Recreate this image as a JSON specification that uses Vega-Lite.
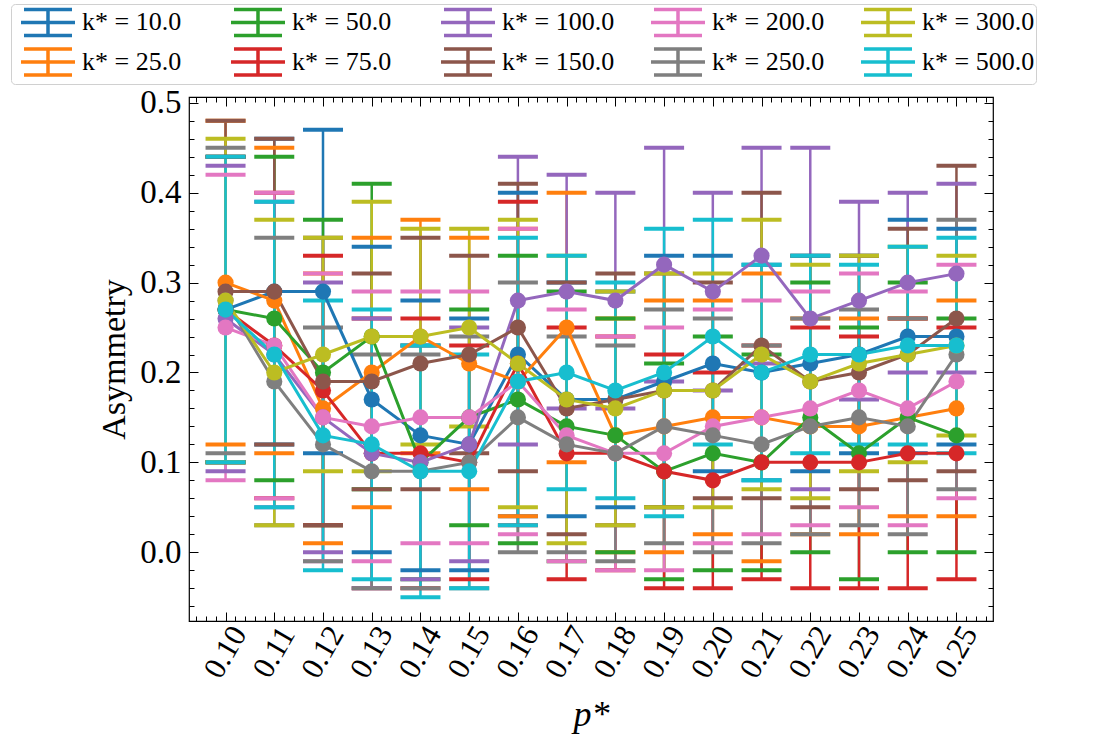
{
  "$schema": "https://vega.github.io/schema/vega-lite/v6.json",
  "width": 804,
  "height": 524,
  "padding": {"left": 10, "top": 3, "right": 5, "bottom": 5},
  "background": "white",
  "config": {
    "view": {"stroke": "black", "strokeWidth": 1.2},
    "font": "Liberation Serif"
  },
  "data": {"values": [
    {"k":"k* = 10.0","p":0.10,"y":0.27,"lo":0.10,"hi":0.44},
    {"k":"k* = 10.0","p":0.11,"y":0.29,"lo":0.12,"hi":0.46},
    {"k":"k* = 10.0","p":0.12,"y":0.29,"lo":0.11,"hi":0.47},
    {"k":"k* = 10.0","p":0.13,"y":0.17,"lo":0.00,"hi":0.34},
    {"k":"k* = 10.0","p":0.14,"y":0.13,"lo":-0.02,"hi":0.28},
    {"k":"k* = 10.0","p":0.15,"y":0.12,"lo":-0.02,"hi":0.26},
    {"k":"k* = 10.0","p":0.16,"y":0.22,"lo":0.04,"hi":0.40},
    {"k":"k* = 10.0","p":0.17,"y":0.17,"lo":0.04,"hi":0.30},
    {"k":"k* = 10.0","p":0.18,"y":0.17,"lo":0.05,"hi":0.29},
    {"k":"k* = 10.0","p":0.19,"y":0.19,"lo":0.05,"hi":0.33},
    {"k":"k* = 10.0","p":0.20,"y":0.21,"lo":0.09,"hi":0.33},
    {"k":"k* = 10.0","p":0.21,"y":0.20,"lo":0.08,"hi":0.32},
    {"k":"k* = 10.0","p":0.22,"y":0.21,"lo":0.09,"hi":0.33},
    {"k":"k* = 10.0","p":0.23,"y":0.22,"lo":0.11,"hi":0.33},
    {"k":"k* = 10.0","p":0.24,"y":0.24,"lo":0.11,"hi":0.37},
    {"k":"k* = 10.0","p":0.25,"y":0.24,"lo":0.12,"hi":0.36},

    {"k":"k* = 25.0","p":0.10,"y":0.30,"lo":0.12,"hi":0.48},
    {"k":"k* = 25.0","p":0.11,"y":0.28,"lo":0.11,"hi":0.45},
    {"k":"k* = 25.0","p":0.12,"y":0.16,"lo":0.01,"hi":0.31},
    {"k":"k* = 25.0","p":0.13,"y":0.20,"lo":0.05,"hi":0.35},
    {"k":"k* = 25.0","p":0.14,"y":0.24,"lo":0.11,"hi":0.37},
    {"k":"k* = 25.0","p":0.15,"y":0.21,"lo":0.07,"hi":0.35},
    {"k":"k* = 25.0","p":0.16,"y":0.19,"lo":0.04,"hi":0.36},
    {"k":"k* = 25.0","p":0.17,"y":0.25,"lo":0.10,"hi":0.40},
    {"k":"k* = 25.0","p":0.18,"y":0.13,"lo":0.00,"hi":0.26},
    {"k":"k* = 25.0","p":0.19,"y":0.14,"lo":0.00,"hi":0.28},
    {"k":"k* = 25.0","p":0.20,"y":0.15,"lo":0.02,"hi":0.28},
    {"k":"k* = 25.0","p":0.21,"y":0.15,"lo":-0.01,"hi":0.31},
    {"k":"k* = 25.0","p":0.22,"y":0.14,"lo":0.02,"hi":0.26},
    {"k":"k* = 25.0","p":0.23,"y":0.14,"lo":0.02,"hi":0.26},
    {"k":"k* = 25.0","p":0.24,"y":0.15,"lo":0.04,"hi":0.26},
    {"k":"k* = 25.0","p":0.25,"y":0.16,"lo":0.04,"hi":0.28},

    {"k":"k* = 50.0","p":0.10,"y":0.27,"lo":0.10,"hi":0.44},
    {"k":"k* = 50.0","p":0.11,"y":0.26,"lo":0.08,"hi":0.44},
    {"k":"k* = 50.0","p":0.12,"y":0.20,"lo":0.03,"hi":0.37},
    {"k":"k* = 50.0","p":0.13,"y":0.24,"lo":0.07,"hi":0.41},
    {"k":"k* = 50.0","p":0.14,"y":0.10,"lo":-0.03,"hi":0.23},
    {"k":"k* = 50.0","p":0.15,"y":0.15,"lo":0.03,"hi":0.27},
    {"k":"k* = 50.0","p":0.16,"y":0.17,"lo":0.01,"hi":0.33},
    {"k":"k* = 50.0","p":0.17,"y":0.14,"lo":-0.01,"hi":0.29},
    {"k":"k* = 50.0","p":0.18,"y":0.13,"lo":0.00,"hi":0.26},
    {"k":"k* = 50.0","p":0.19,"y":0.09,"lo":-0.03,"hi":0.21},
    {"k":"k* = 50.0","p":0.20,"y":0.11,"lo":-0.02,"hi":0.24},
    {"k":"k* = 50.0","p":0.21,"y":0.10,"lo":-0.02,"hi":0.22},
    {"k":"k* = 50.0","p":0.22,"y":0.15,"lo":0.00,"hi":0.30},
    {"k":"k* = 50.0","p":0.23,"y":0.11,"lo":-0.03,"hi":0.25},
    {"k":"k* = 50.0","p":0.24,"y":0.15,"lo":0.00,"hi":0.30},
    {"k":"k* = 50.0","p":0.25,"y":0.13,"lo":0.00,"hi":0.26},

    {"k":"k* = 75.0","p":0.10,"y":0.27,"lo":0.10,"hi":0.44},
    {"k":"k* = 75.0","p":0.11,"y":0.23,"lo":0.06,"hi":0.40},
    {"k":"k* = 75.0","p":0.12,"y":0.18,"lo":0.03,"hi":0.33},
    {"k":"k* = 75.0","p":0.13,"y":0.11,"lo":-0.04,"hi":0.26},
    {"k":"k* = 75.0","p":0.14,"y":0.11,"lo":-0.04,"hi":0.26},
    {"k":"k* = 75.0","p":0.15,"y":0.10,"lo":-0.03,"hi":0.23},
    {"k":"k* = 75.0","p":0.16,"y":0.21,"lo":0.03,"hi":0.39},
    {"k":"k* = 75.0","p":0.17,"y":0.11,"lo":-0.03,"hi":0.25},
    {"k":"k* = 75.0","p":0.18,"y":0.11,"lo":-0.02,"hi":0.24},
    {"k":"k* = 75.0","p":0.19,"y":0.09,"lo":-0.04,"hi":0.22},
    {"k":"k* = 75.0","p":0.20,"y":0.08,"lo":-0.04,"hi":0.20},
    {"k":"k* = 75.0","p":0.21,"y":0.10,"lo":-0.03,"hi":0.23},
    {"k":"k* = 75.0","p":0.22,"y":0.10,"lo":-0.04,"hi":0.25},
    {"k":"k* = 75.0","p":0.23,"y":0.10,"lo":-0.04,"hi":0.24},
    {"k":"k* = 75.0","p":0.24,"y":0.11,"lo":-0.04,"hi":0.26},
    {"k":"k* = 75.0","p":0.25,"y":0.11,"lo":-0.03,"hi":0.25},

    {"k":"k* = 100.0","p":0.10,"y":0.26,"lo":0.09,"hi":0.43},
    {"k":"k* = 100.0","p":0.11,"y":0.22,"lo":0.05,"hi":0.39},
    {"k":"k* = 100.0","p":0.12,"y":0.15,"lo":0.00,"hi":0.30},
    {"k":"k* = 100.0","p":0.13,"y":0.11,"lo":-0.04,"hi":0.26},
    {"k":"k* = 100.0","p":0.14,"y":0.10,"lo":-0.03,"hi":0.23},
    {"k":"k* = 100.0","p":0.15,"y":0.12,"lo":-0.01,"hi":0.25},
    {"k":"k* = 100.0","p":0.16,"y":0.28,"lo":0.12,"hi":0.44},
    {"k":"k* = 100.0","p":0.17,"y":0.29,"lo":0.16,"hi":0.42},
    {"k":"k* = 100.0","p":0.18,"y":0.28,"lo":0.16,"hi":0.40},
    {"k":"k* = 100.0","p":0.19,"y":0.32,"lo":0.19,"hi":0.45},
    {"k":"k* = 100.0","p":0.20,"y":0.29,"lo":0.18,"hi":0.40},
    {"k":"k* = 100.0","p":0.21,"y":0.33,"lo":0.21,"hi":0.45},
    {"k":"k* = 100.0","p":0.22,"y":0.26,"lo":0.07,"hi":0.45},
    {"k":"k* = 100.0","p":0.23,"y":0.28,"lo":0.17,"hi":0.39},
    {"k":"k* = 100.0","p":0.24,"y":0.30,"lo":0.20,"hi":0.40},
    {"k":"k* = 100.0","p":0.25,"y":0.31,"lo":0.20,"hi":0.41},

    {"k":"k* = 150.0","p":0.10,"y":0.29,"lo":0.10,"hi":0.48},
    {"k":"k* = 150.0","p":0.11,"y":0.29,"lo":0.12,"hi":0.46},
    {"k":"k* = 150.0","p":0.12,"y":0.19,"lo":0.03,"hi":0.35},
    {"k":"k* = 150.0","p":0.13,"y":0.19,"lo":0.07,"hi":0.31},
    {"k":"k* = 150.0","p":0.14,"y":0.21,"lo":0.07,"hi":0.35},
    {"k":"k* = 150.0","p":0.15,"y":0.22,"lo":0.11,"hi":0.33},
    {"k":"k* = 150.0","p":0.16,"y":0.25,"lo":0.09,"hi":0.41},
    {"k":"k* = 150.0","p":0.17,"y":0.16,"lo":0.02,"hi":0.30},
    {"k":"k* = 150.0","p":0.18,"y":0.17,"lo":0.03,"hi":0.31},
    {"k":"k* = 150.0","p":0.19,"y":0.18,"lo":0.05,"hi":0.31},
    {"k":"k* = 150.0","p":0.20,"y":0.18,"lo":0.06,"hi":0.30},
    {"k":"k* = 150.0","p":0.21,"y":0.23,"lo":0.06,"hi":0.40},
    {"k":"k* = 150.0","p":0.22,"y":0.19,"lo":0.05,"hi":0.33},
    {"k":"k* = 150.0","p":0.23,"y":0.20,"lo":0.07,"hi":0.33},
    {"k":"k* = 150.0","p":0.24,"y":0.22,"lo":0.08,"hi":0.36},
    {"k":"k* = 150.0","p":0.25,"y":0.26,"lo":0.09,"hi":0.43},

    {"k":"k* = 200.0","p":0.10,"y":0.25,"lo":0.08,"hi":0.42},
    {"k":"k* = 200.0","p":0.11,"y":0.23,"lo":0.06,"hi":0.40},
    {"k":"k* = 200.0","p":0.12,"y":0.15,"lo":-0.01,"hi":0.31},
    {"k":"k* = 200.0","p":0.13,"y":0.14,"lo":-0.01,"hi":0.29},
    {"k":"k* = 200.0","p":0.14,"y":0.15,"lo":0.01,"hi":0.29},
    {"k":"k* = 200.0","p":0.15,"y":0.15,"lo":0.01,"hi":0.29},
    {"k":"k* = 200.0","p":0.16,"y":0.19,"lo":0.02,"hi":0.36},
    {"k":"k* = 200.0","p":0.17,"y":0.13,"lo":-0.01,"hi":0.27},
    {"k":"k* = 200.0","p":0.18,"y":0.11,"lo":-0.02,"hi":0.24},
    {"k":"k* = 200.0","p":0.19,"y":0.11,"lo":-0.02,"hi":0.25},
    {"k":"k* = 200.0","p":0.20,"y":0.14,"lo":0.01,"hi":0.27},
    {"k":"k* = 200.0","p":0.21,"y":0.15,"lo":0.02,"hi":0.28},
    {"k":"k* = 200.0","p":0.22,"y":0.16,"lo":0.03,"hi":0.29},
    {"k":"k* = 200.0","p":0.23,"y":0.18,"lo":0.05,"hi":0.31},
    {"k":"k* = 200.0","p":0.24,"y":0.16,"lo":0.03,"hi":0.29},
    {"k":"k* = 200.0","p":0.25,"y":0.19,"lo":0.06,"hi":0.32},

    {"k":"k* = 250.0","p":0.10,"y":0.28,"lo":0.11,"hi":0.45},
    {"k":"k* = 250.0","p":0.11,"y":0.19,"lo":0.03,"hi":0.35},
    {"k":"k* = 250.0","p":0.12,"y":0.12,"lo":-0.01,"hi":0.25},
    {"k":"k* = 250.0","p":0.13,"y":0.09,"lo":-0.04,"hi":0.22},
    {"k":"k* = 250.0","p":0.14,"y":0.09,"lo":-0.04,"hi":0.22},
    {"k":"k* = 250.0","p":0.15,"y":0.10,"lo":-0.04,"hi":0.24},
    {"k":"k* = 250.0","p":0.16,"y":0.15,"lo":0.00,"hi":0.30},
    {"k":"k* = 250.0","p":0.17,"y":0.12,"lo":0.00,"hi":0.24},
    {"k":"k* = 250.0","p":0.18,"y":0.11,"lo":-0.01,"hi":0.23},
    {"k":"k* = 250.0","p":0.19,"y":0.14,"lo":0.01,"hi":0.27},
    {"k":"k* = 250.0","p":0.20,"y":0.13,"lo":0.00,"hi":0.26},
    {"k":"k* = 250.0","p":0.21,"y":0.12,"lo":0.01,"hi":0.23},
    {"k":"k* = 250.0","p":0.22,"y":0.14,"lo":0.02,"hi":0.26},
    {"k":"k* = 250.0","p":0.23,"y":0.15,"lo":0.03,"hi":0.27},
    {"k":"k* = 250.0","p":0.24,"y":0.14,"lo":0.02,"hi":0.26},
    {"k":"k* = 250.0","p":0.25,"y":0.22,"lo":0.07,"hi":0.37},

    {"k":"k* = 300.0","p":0.10,"y":0.28,"lo":0.10,"hi":0.46},
    {"k":"k* = 300.0","p":0.11,"y":0.20,"lo":0.03,"hi":0.37},
    {"k":"k* = 300.0","p":0.12,"y":0.22,"lo":0.09,"hi":0.35},
    {"k":"k* = 300.0","p":0.13,"y":0.24,"lo":0.09,"hi":0.39},
    {"k":"k* = 300.0","p":0.14,"y":0.24,"lo":0.12,"hi":0.36},
    {"k":"k* = 300.0","p":0.15,"y":0.25,"lo":0.14,"hi":0.36},
    {"k":"k* = 300.0","p":0.16,"y":0.21,"lo":0.05,"hi":0.37},
    {"k":"k* = 300.0","p":0.17,"y":0.17,"lo":0.01,"hi":0.33},
    {"k":"k* = 300.0","p":0.18,"y":0.16,"lo":0.03,"hi":0.29},
    {"k":"k* = 300.0","p":0.19,"y":0.18,"lo":0.05,"hi":0.31},
    {"k":"k* = 300.0","p":0.20,"y":0.18,"lo":0.05,"hi":0.31},
    {"k":"k* = 300.0","p":0.21,"y":0.22,"lo":0.07,"hi":0.37},
    {"k":"k* = 300.0","p":0.22,"y":0.19,"lo":0.06,"hi":0.32},
    {"k":"k* = 300.0","p":0.23,"y":0.21,"lo":0.09,"hi":0.33},
    {"k":"k* = 300.0","p":0.24,"y":0.22,"lo":0.10,"hi":0.34},
    {"k":"k* = 300.0","p":0.25,"y":0.23,"lo":0.13,"hi":0.33},

    {"k":"k* = 500.0","p":0.10,"y":0.27,"lo":0.10,"hi":0.44},
    {"k":"k* = 500.0","p":0.11,"y":0.22,"lo":0.05,"hi":0.39},
    {"k":"k* = 500.0","p":0.12,"y":0.13,"lo":-0.02,"hi":0.28},
    {"k":"k* = 500.0","p":0.13,"y":0.12,"lo":-0.03,"hi":0.27},
    {"k":"k* = 500.0","p":0.14,"y":0.09,"lo":-0.05,"hi":0.23},
    {"k":"k* = 500.0","p":0.15,"y":0.09,"lo":-0.04,"hi":0.22},
    {"k":"k* = 500.0","p":0.16,"y":0.19,"lo":0.03,"hi":0.35},
    {"k":"k* = 500.0","p":0.17,"y":0.20,"lo":0.07,"hi":0.33},
    {"k":"k* = 500.0","p":0.18,"y":0.18,"lo":0.06,"hi":0.30},
    {"k":"k* = 500.0","p":0.19,"y":0.20,"lo":0.04,"hi":0.36},
    {"k":"k* = 500.0","p":0.20,"y":0.24,"lo":0.12,"hi":0.37},
    {"k":"k* = 500.0","p":0.21,"y":0.20,"lo":0.08,"hi":0.32},
    {"k":"k* = 500.0","p":0.22,"y":0.22,"lo":0.11,"hi":0.33},
    {"k":"k* = 500.0","p":0.23,"y":0.22,"lo":0.12,"hi":0.32},
    {"k":"k* = 500.0","p":0.24,"y":0.23,"lo":0.12,"hi":0.34},
    {"k":"k* = 500.0","p":0.25,"y":0.23,"lo":0.11,"hi":0.35}
  ]},
  "layer": [
    {
      "mark": {"type": "rule", "strokeWidth": 2.5},
      "encoding": {
        "x": {"field": "p", "type": "quantitative",
          "scale": {"domain": [0.0925, 0.2575], "nice": false, "zero": false},
          "axis": {"orient": "bottom", "title": "p*", "tickCount": 82,
            "labelExpr": "abs(datum.value*100 - round(datum.value*100)) < 0.001 ? format(datum.value, '.2f') : ''",
            "tickSize": {"condition": {"test": "abs(datum.value*100 - round(datum.value*100)) < 0.001", "value": -9}, "value": -5},
            "tickColor": "black", "tickWidth": 1, "domain": false, "grid": false,
            "labelAngle": -60, "labelAlign": "center", "labelBaseline": "middle", "labelPadding": 40,
            "labelOverlap": false, "labelFlush": false, "labelBound": false,
            "labelFont": "Liberation Serif", "labelFontSize": 31, "labelColor": "black",
            "titleFont": "Liberation Serif", "titleFontSize": 36, "titleFontStyle": "italic", "titleFontWeight": "normal", "titleColor": "black", "titlePadding": 15}},
        "y": {"field": "lo", "type": "quantitative",
          "scale": {"domain": [-0.0765, 0.5065], "nice": false, "zero": false},
          "axis": {"orient": "left", "title": "Asymmetry", "tickCount": 29,
            "labelExpr": "abs(datum.value*10 - round(datum.value*10)) < 0.001 ? format(datum.value, '.1f') : ''",
            "tickSize": {"condition": {"test": "abs(datum.value*10 - round(datum.value*10)) < 0.001", "value": -9}, "value": -5},
            "tickColor": "black", "tickWidth": 1, "domain": false, "grid": false,
            "labelPadding": 17, "labelOverlap": false, "labelFlush": false, "labelBound": false,
            "labelFont": "Liberation Serif", "labelFontSize": 33, "labelColor": "black",
            "titleFont": "Liberation Serif", "titleFontSize": 34, "titleFontWeight": "normal", "titleColor": "black", "titlePadding": 8}},
        "y2": {"field": "hi"},
        "color": {"field": "k", "type": "nominal",
          "scale": {"domain": ["k* = 10.0","k* = 25.0","k* = 50.0","k* = 75.0","k* = 100.0","k* = 150.0","k* = 200.0","k* = 250.0","k* = 300.0","k* = 500.0"],
                    "range": ["#1f77b4","#ff7f0e","#2ca02c","#d62728","#9467bd","#8c564b","#e377c2","#7f7f7f","#bcbd22","#17becf"]},
          "legend": {"orient": "none", "legendX": -178, "legendY": -93, "columns": 5, "title": null,
            "symbolType": "M-1.6,-0.87H1.6M-1.6,0.87H1.6M0,-0.87V0.87M-1.8,0H1.8",
            "symbolSize": 900, "symbolStrokeWidth": 3.5, "symbolOffset": 19, "labelOffset": 17,
            "labelFont": "Liberation Serif", "labelFontSize": 26, "labelColor": "black",
            "rowPadding": -2, "columnPadding": 27, "padding": 1, "gridAlign": "all",
            "strokeColor": "#d0d0d0", "fillColor": "white", "cornerRadius": 4}}
      }
    },
    {
      "mark": {"type": "tick", "orient": "horizontal", "size": 40, "thickness": 4, "opacity": 1},
      "encoding": {
        "x": {"field": "p", "type": "quantitative", "scale": {"domain": [0.0925, 0.2575], "nice": false, "zero": false}, "axis": null},
        "y": {"field": "lo", "type": "quantitative", "scale": {"domain": [-0.0765, 0.5065], "nice": false, "zero": false}, "axis": null},
        "color": {"field": "k", "type": "nominal", "legend": null}
      }
    },
    {
      "mark": {"type": "tick", "orient": "horizontal", "size": 40, "thickness": 4, "opacity": 1},
      "encoding": {
        "x": {"field": "p", "type": "quantitative", "scale": {"domain": [0.0925, 0.2575], "nice": false, "zero": false}, "axis": null},
        "y": {"field": "hi", "type": "quantitative", "scale": {"domain": [-0.0765, 0.5065], "nice": false, "zero": false}, "axis": null},
        "color": {"field": "k", "type": "nominal", "legend": null}
      }
    },
    {
      "mark": {"type": "line", "strokeWidth": 3},
      "encoding": {
        "x": {"field": "p", "type": "quantitative", "scale": {"domain": [0.0925, 0.2575], "nice": false, "zero": false}, "axis": null},
        "y": {"field": "y", "type": "quantitative", "scale": {"domain": [-0.0765, 0.5065], "nice": false, "zero": false}, "axis": null},
        "color": {"field": "k", "type": "nominal", "legend": null}
      }
    },
    {
      "mark": {"type": "point", "filled": true, "opacity": 1, "size": 260, "shape": "circle"},
      "encoding": {
        "x": {"field": "p", "type": "quantitative", "scale": {"domain": [0.0925, 0.2575], "nice": false, "zero": false},
          "axis": {"orient": "top", "title": null, "labels": false, "tickCount": 82,
            "tickSize": {"condition": {"test": "abs(datum.value*100 - round(datum.value*100)) < 0.001", "value": -9}, "value": -5},
            "tickColor": "black", "tickWidth": 1, "domain": false, "grid": false}},
        "y": {"field": "y", "type": "quantitative", "scale": {"domain": [-0.0765, 0.5065], "nice": false, "zero": false},
          "axis": {"orient": "right", "title": null, "labels": false, "tickCount": 29,
            "tickSize": {"condition": {"test": "abs(datum.value*10 - round(datum.value*10)) < 0.001", "value": -9}, "value": -5},
            "tickColor": "black", "tickWidth": 1, "domain": false, "grid": false}},
        "color": {"field": "k", "type": "nominal", "legend": null}
      }
    }
  ]
}
